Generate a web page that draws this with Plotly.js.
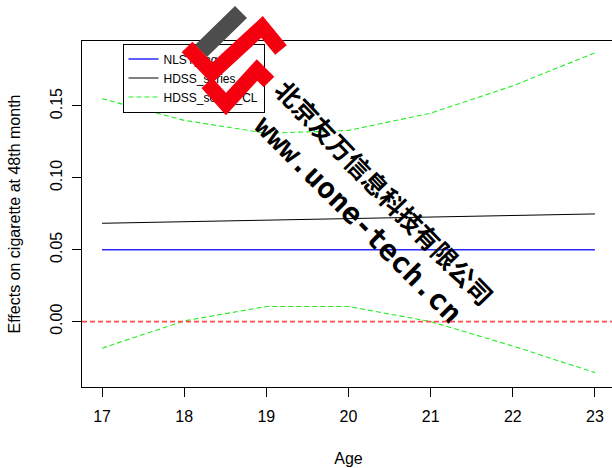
<!DOCTYPE html>
<html>
<head>
<meta charset="utf-8">
<script src="https://cdn.plot.ly/plotly-3.0.1.min.js"></script>
<style>
  html, body { margin: 0; padding: 0; overflow: hidden; background: #fff; }
  #chart { width: 616px; height: 468px; }
</style>
</head>
<body>
<div id="chart"></div>
<script>
// ---- data ----
const ages = [17, 18, 19, 20, 21, 22, 23];
const nlsyLag = [0.05, 0.05, 0.05, 0.05, 0.05, 0.05, 0.05];
const hdssSeries = [0.0684, 0.0695, 0.0705, 0.0716, 0.0727, 0.0738, 0.0749];
const hdssUpperCL = [0.155, 0.140, 0.131, 0.133, 0.145, 0.164, 0.187];
const hdssLowerCL = [-0.0185, 0.0005, 0.0105, 0.0105, 0.000, -0.017, -0.0355];
const refLine = 0;
const seriesNames = ["NLSY_lag", "HDSS_series", "HDSS_series_CL"];
const yTicks = [0, 0.05, 0.10, 0.15];
const xTitle = "Age";
const yTitle = "Effects on cigarette at 48th month";
const wmCompany = "北京友万信息科技有限公司";
const wmUrl = "www.uone-tech.cn";

// ---- layout helpers ----
const W = 616, H = 468, ML = 82, MR = 1, MT = 41, MB = 81;
const PW = W - ML - MR, PH = H - MT - MB;
const px = v => (v - ML) / PW;
const py = v => 1 - (v - MT) / PH;
const FONT = "Liberation Sans, Arial, sans-serif";

const data = [
  { x: ages, y: nlsyLag, name: seriesNames[0], mode: "lines",
    line: { color: "#2a2aff", width: 1.5 } },
  { x: ages, y: hdssSeries, name: seriesNames[1], mode: "lines",
    line: { color: "#000000", width: 1 } },
  { x: ages, y: hdssUpperCL, name: seriesNames[2], mode: "lines", legendgroup: "cl",
    line: { color: "#22ee22", width: 1.1, dash: "5px,3px" } },
  { x: ages, y: hdssLowerCL, name: seriesNames[2], mode: "lines", legendgroup: "cl",
    showlegend: false, line: { color: "#22ee22", width: 1.1, dash: "5px,3px" } }
];

function poly(pts) {
  return pts.map((p, i) => (i ? "L" : "M") + px(p[0]) + "," + py(p[1])).join(" ") + " Z";
}
function pl(pts) {
  return pts.map((p, i) => (i ? "L" : "M") + px(p[0]) + "," + py(p[1])).join(" ");
}

const shapes = [
  { type: "line", xref: "paper", x0: 0, x1: 1, yref: "y", y0: refLine, y1: refLine,
    line: { color: "#ff4a4a", width: 1.6, dash: "5px,3px" }, layer: "above" },
  // watermark logo
  { type: "path", xref: "paper", yref: "paper", layer: "above",
    path: poly([[235, 6], [247, 18], [207, 57], [195, 45]]),
    fillcolor: "#4d4d4d", line: { width: 0 } },
  { type: "path", xref: "paper", yref: "paper", layer: "above",
    path: pl([[187, 47], [212, 73], [262, 27], [281, 50]]),
    line: { color: "#f5000f", width: 15 } },
  { type: "path", xref: "paper", yref: "paper", layer: "above",
    path: pl([[207, 83], [226, 104], [257, 70], [269, 82]]),
    line: { color: "#f5000f", width: 15 } }
];

const layout = {
  width: W, height: H,
  margin: { l: ML, r: MR, t: MT, b: MB, pad: 0 },
  paper_bgcolor: "#fff", plot_bgcolor: "#fff",
  font: { family: FONT, size: 16, color: "#000" },
  showlegend: true,
  legend: {
    x: px(122.5), y: py(43.5), xanchor: "left", yanchor: "top",
    bgcolor: "#fff", bordercolor: "#000", borderwidth: 1,
    font: { family: FONT, size: 12, color: "#000" },
    tracegroupgap: 0, itemwidth: 30
  },
  xaxis: {
    range: [16.756, 23.244], tickvals: ages, ticks: "outside", ticklen: 9,
    tickcolor: "#000", showline: true, mirror: true, linecolor: "#000", linewidth: 1,
    showgrid: false, zeroline: false, ticklabelstandoff: 6,
    tickfont: { family: FONT, size: 16, color: "#000" },
    title: { text: xTitle, standoff: 28, font: { family: FONT, size: 16, color: "#000" } }
  },
  yaxis: {
    range: [-0.0455, 0.1952], tickvals: yTicks, tickformat: ".2f", ticks: "outside",
    ticklen: 9, tickcolor: "#000", tickangle: -90, showline: true, mirror: true,
    linecolor: "#000", linewidth: 1, showgrid: false, zeroline: false,
    ticklabelstandoff: 4,
    tickfont: { family: FONT, size: 16, color: "#000" },
    title: { text: yTitle, standoff: 22, font: { family: FONT, size: 16, color: "#000" } }
  },
  shapes: shapes,
  annotations: [
    { xref: "paper", yref: "paper", x: px(385), y: py(192), text: "<b>" + wmCompany + "</b>",
      showarrow: false, textangle: 46, xanchor: "center", yanchor: "middle",
      font: { family: "Noto Sans CJK SC", size: 25, color: "#000" } },
    { xref: "paper", yref: "paper", x: px(358), y: py(219), text: "<b>" + wmUrl + "</b>",
      showarrow: false, textangle: 45, xanchor: "center", yanchor: "middle",
      font: { family: "DejaVu Sans Mono", size: 29, color: "#000" } }
  ]
};

const gd = document.getElementById("chart");
Plotly.newPlot(gd, data, layout, { staticPlot: true, displayModeBar: false }).then(() => {
  const svgs = gd.querySelectorAll("svg.main-svg");
  const top = svgs[svgs.length - 1];
  const sl = gd.querySelector(".layer-above .shapelayer");
  if (sl && top && top !== sl.ownerSVGElement) top.appendChild(sl);
});
</script>
</body>
</html>
